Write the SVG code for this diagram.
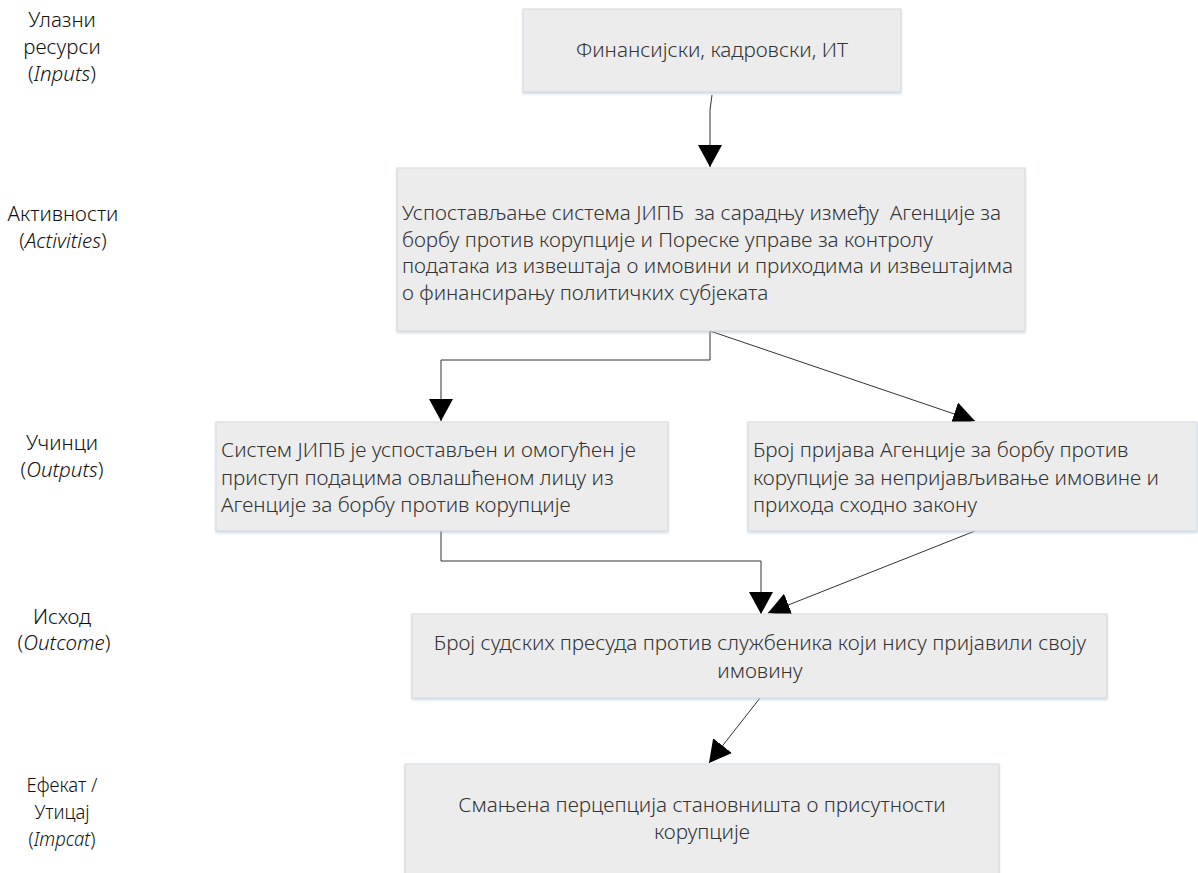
<svg xmlns="http://www.w3.org/2000/svg" width="1198" height="873" viewBox="0 0 1198 873">
<style>
.box{fill:#ececec;stroke:#d3dbe3;stroke-width:1}
.t{font-family:"Noto Sans","Open Sans","DejaVu Sans",sans-serif;font-size:20.7px;fill:#333;font-weight:300}
.c{text-anchor:middle}
.lbl{font-family:"Noto Sans","Open Sans","DejaVu Sans",sans-serif;font-size:20.5px;fill:#111;text-anchor:middle;font-weight:300}
.lbl2{font-family:"Noto Sans","Open Sans","DejaVu Sans",sans-serif;font-size:20.5px;fill:#111;text-anchor:middle;font-weight:300}
.ln{fill:none;stroke:#333;stroke-width:1}
</style>
<defs>
<marker id="ah" viewBox="0 0 22 24" refX="22" refY="12" markerWidth="22" markerHeight="24" markerUnits="userSpaceOnUse" orient="auto">
<path d="M0,0 L22,12 L0,24 Z" fill="#000"/>
</marker>
<filter id="sh" x="-5%" y="-5%" width="110%" height="115%">
<feDropShadow dx="0" dy="1.5" stdDeviation="1" flood-color="#9fb3c8" flood-opacity="0.5"/>
</filter>
</defs>
<g id="labels">
<text class="lbl" x="62" y="27">Улазни</text>
<text class="lbl" x="62" y="54">ресурси</text>
<text class="lbl" x="62" y="81">(<tspan font-style="italic">Inputs</tspan>)</text>
<text class="lbl" x="63" y="221">Активности</text>
<text class="lbl" x="63" y="248">(<tspan font-style="italic">Activities</tspan>)</text>
<text class="lbl" x="62" y="450">Учинци</text>
<text class="lbl" x="62" y="477">(<tspan font-style="italic">Outputs</tspan>)</text>
<text class="lbl" x="62" y="624">Исход</text>
<text class="lbl" x="64" y="650">(<tspan font-style="italic">Outcome</tspan>)</text>
<g transform="translate(62,0) scale(0.9,1)">
<text class="lbl2" x="0" y="792">Ефекат /</text>
<text class="lbl2" x="0" y="819">Утицај</text>
<text class="lbl2" x="0" y="846">(<tspan font-style="italic">Impcat</tspan>)</text>
</g>
</g>
<g id="connectors">
<path class="ln" d="M712,95 Q709,110 710,125 L710,167" marker-end="url(#ah)"/>
<path class="ln" d="M710,331 L710,360 L441,360 L441,421" marker-end="url(#ah)"/>
<path class="ln" d="M710,331 L975,421" marker-end="url(#ah)"/>
<path class="ln" d="M441,531 L441,561 L761,561 L761,614" marker-end="url(#ah)"/>
<path class="ln" d="M975,531 L768,613" marker-end="url(#ah)"/>
<path class="ln" d="M760,698 L709,763" marker-end="url(#ah)"/>
</g>
<g id="n1">
<rect class="box" x="523" y="9" width="378" height="83" filter="url(#sh)"/>
<text class="t c" x="712" y="57">Финансијски, кадровски, ИТ</text>
</g>
<g id="n2">
<rect class="box" x="397" y="168" width="628" height="163" filter="url(#sh)"/>
<text class="t" x="402" y="220" xml:space="preserve">Успостављање система ЈИПБ  за сарадњу између  Агенције за</text>
<text class="t" x="402" y="246.5">борбу против корупције и Пореске управе за контролу</text>
<text class="t" x="402" y="273">података из извештаја о имовини и приходима и извештајима</text>
<text class="t" x="402" y="299.5">о финансирању политичких субјеката</text>
</g>
<g id="n3">
<rect class="box" x="216" y="422" width="452" height="109" filter="url(#sh)"/>
<text class="t" x="221" y="457">Систем ЈИПБ је успостављен и омогућен је</text>
<text class="t" x="221" y="485">приступ подацима овлашћеном лицу из</text>
<text class="t" x="221" y="512">Агенције за борбу против корупције</text>
</g>
<g id="n4">
<rect class="box" x="748" y="422" width="449" height="109" filter="url(#sh)"/>
<text class="t" x="753" y="457">Број пријава Агенције за борбу против</text>
<text class="t" x="753" y="485">корупције за непријављивање имовине и</text>
<text class="t" x="753" y="512">прихода сходно закону</text>
</g>
<g id="n5">
<rect class="box" x="412" y="614" width="695" height="84" filter="url(#sh)"/>
<text class="t c" x="760" y="650">Број судских пресуда против службеника који нису пријавили своју</text>
<text class="t c" x="760" y="678">имовину</text>
</g>
<g id="n6">
<rect class="box" x="405" y="764" width="594" height="115" filter="url(#sh)"/>
<text class="t c" x="702" y="812">Смањена перцепција становништа о присутности</text>
<text class="t c" x="702" y="839">корупције</text>
</g>
</svg>
